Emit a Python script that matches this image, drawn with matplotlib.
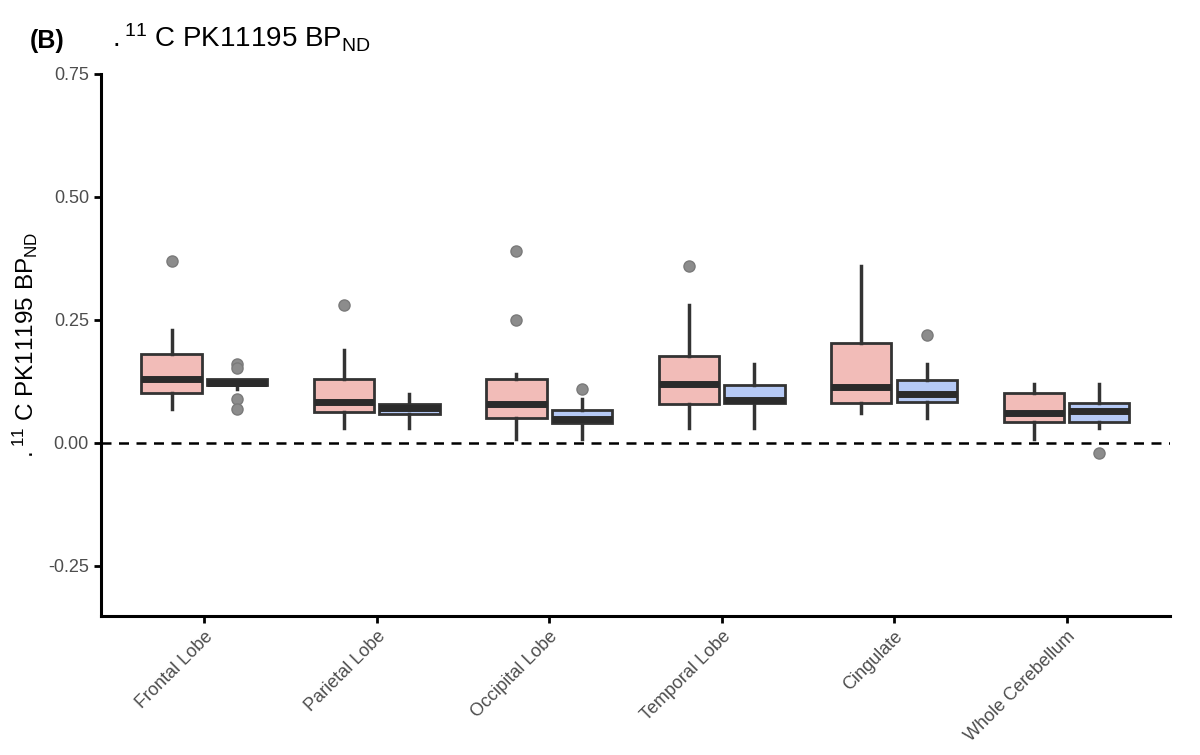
import matplotlib
matplotlib.use("Agg")
import matplotlib.pyplot as plt

plt.rcParams["font.family"] = ["Liberation Sans", "DejaVu Sans"]
plt.rcParams["mathtext.fontset"] = "custom"
plt.rcParams["mathtext.rm"] = "Liberation Sans"
plt.rcParams["mathtext.it"] = "Liberation Sans"

regions = ["Frontal Lobe", "Parietal Lobe", "Occipital Lobe", "Temporal Lobe",
           "Cingulate", "Whole Cerebellum"]

# box stats: whisker low, q1, median, q3, whisker high, outliers
pink_wlo = [0.069, 0.030, 0.008, 0.030, 0.060, 0.008]
pink_q1 = [0.101, 0.062, 0.051, 0.079, 0.081, 0.042]
pink_med = [0.130, 0.084, 0.080, 0.119, 0.114, 0.060]
pink_q3 = [0.180, 0.130, 0.129, 0.177, 0.203, 0.102]
pink_whi = [0.230, 0.189, 0.140, 0.280, 0.360, 0.120]
pink_out = [[0.370], [0.280], [0.390, 0.250], [0.360], [], []]

blue_wlo = [0.110, 0.030, 0.008, 0.030, 0.050, 0.030]
blue_q1 = [0.117, 0.058, 0.040, 0.081, 0.084, 0.042]
blue_med = [0.121, 0.072, 0.049, 0.087, 0.100, 0.065]
blue_q3 = [0.130, 0.080, 0.067, 0.117, 0.127, 0.081]
blue_whi = [0.130, 0.099, 0.090, 0.160, 0.160, 0.120]
blue_out = [[0.160, 0.152, 0.090, 0.069], [], [0.110], [], [0.220], [-0.021]]


def make_stats(wlo, q1, med, q3, whi, out):
    return [dict(whislo=a, q1=b, med=c, q3=d, whishi=e, fliers=f)
            for a, b, c, d, e, f in zip(wlo, q1, med, q3, whi, out)]


fig = plt.figure(figsize=(12, 7.55), dpi=100)
ax = fig.add_axes([0.084, 0.184, 0.891, 0.718])

pos = list(range(1, len(regions) + 1))
edge = "#333333"
common = dict(widths=0.35, patch_artist=True,
              whiskerprops=dict(color=edge, linewidth=2.5),
              capprops=dict(linewidth=0),
              medianprops=dict(color="#2b2b2b", linewidth=5, solid_capstyle="butt"),
              flierprops=dict(marker="o", markersize=8, markerfacecolor="#8c8c8c",
                              markeredgecolor="#7a7a7a", linestyle="none"))

bp1 = ax.bxp(make_stats(pink_wlo, pink_q1, pink_med, pink_q3, pink_whi, pink_out),
             positions=[p - 0.19 for p in pos],
             boxprops=dict(facecolor="#F2BCB8", edgecolor=edge, linewidth=2), **common)
bp2 = ax.bxp(make_stats(blue_wlo, blue_q1, blue_med, blue_q3, blue_whi, blue_out),
             positions=[p + 0.19 for p in pos],
             boxprops=dict(facecolor="#B5C9F5", edgecolor=edge, linewidth=2), **common)

ax.axhline(0, color="black", linestyle=(0, (4, 3)), linewidth=1.8, zorder=0)

ax.set_xlim(0.4, 6.6)
ax.set_ylim(-0.352, 0.75)
ax.set_xticks(pos)
ax.set_xticklabels(regions, rotation=45, ha="right", rotation_mode="anchor")
ax.set_yticks([-0.25, 0.0, 0.25, 0.5, 0.75])
ax.set_yticklabels(["-0.25", "0.00", "0.25", "0.50", "0.75"])
ax.tick_params(axis="both", labelsize=13, labelcolor="#4d4d4d", color="black",
               width=2, length=5)

for s in ["top", "right"]:
    ax.spines[s].set_visible(False)
for s in ["left", "bottom"]:
    ax.spines[s].set_linewidth(2.2)

ax.set_ylabel(r"$.^{11}$ C PK11195 BP$_{\mathrm{ND}}$", fontsize=17.5, labelpad=6)

fig.text(0.025, 0.937, "(B)", fontsize=18, fontweight="bold", ha="left", va="baseline")
fig.text(0.093, 0.937, r"$.^{11}$ C PK11195 BP$_{\mathrm{ND}}$", fontsize=20,
         ha="left", va="baseline")

fig.savefig("out.png", dpi=100)
